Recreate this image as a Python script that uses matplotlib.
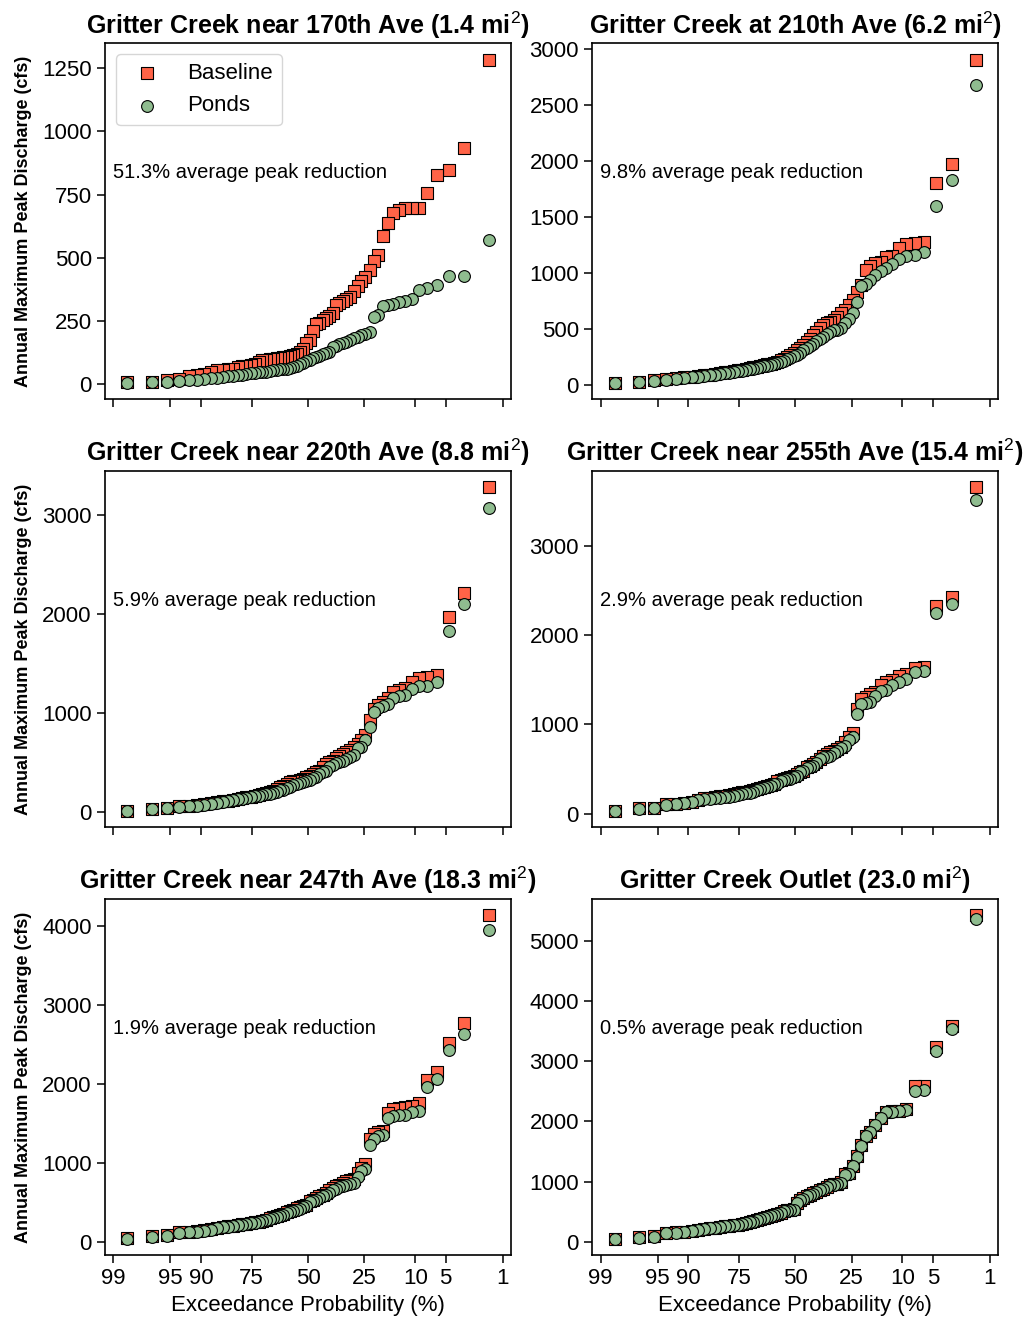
import matplotlib
matplotlib.use("Agg")
import matplotlib.pyplot as plt
import matplotlib.ticker as ticker
import numpy as np
from statistics import NormalDist

plt.rcParams['font.family'] = ['Liberation Sans', 'DejaVu Sans']
plt.rcParams['mathtext.fontset'] = 'custom'
plt.rcParams['mathtext.rm'] = 'Liberation Sans'
plt.rcParams['mathtext.bf'] = 'Liberation Sans:bold'

# ---- data (annual peaks, sorted largest first) ----
site_names = ["Gritter Creek near 170th Ave", "Gritter Creek at 210th Ave",
	"Gritter Creek near 220th Ave", "Gritter Creek near 255th Ave",
	"Gritter Creek near 247th Ave", "Gritter Creek Outlet"]
site_areas = ["1.4", "6.2", "8.8", "15.4", "18.3", "23.0"]
peak_reduction = ["51.3", "9.8", "5.9", "2.9", "1.9", "0.5"]
y_steps = [250, 500, 1000, 1000, 1000, 1000]
prob_ticks = [99, 95, 90, 75, 50, 25, 10, 5, 1]

baseline_170 = [1285, 935, 848, 828, 758, 698, 698, 697, 690, 678, 636, 587, 509, 488, 451, 424,
	408, 386, 368, 344, 335, 330, 320, 312, 279, 270, 262, 253, 243, 237, 209, 172, 160, 140, 126,
	118, 113, 110, 108, 106, 104, 102, 100, 98, 96, 93, 85, 77, 75, 72, 69, 65, 60, 57, 55, 53, 47,
	40, 35, 31, 20, 17, 9, 7]
ponds_170 = [569, 428, 428, 392, 380, 372, 336, 328, 324, 318, 312, 310, 272, 265, 204, 199, 193,
	187, 180, 174, 167, 162, 156, 152, 148, 128, 124, 120, 112, 106, 102, 96, 90, 82, 77, 72, 68, 63,
	60, 59, 57, 55, 53, 51, 49, 47, 46, 44, 42, 39, 37, 35, 33, 31, 28, 25, 23, 20, 17, 16, 13, 9, 7, 3]

baseline_210 = [2902, 1968, 1804, 1280, 1265, 1258, 1225, 1148, 1140, 1100, 1085, 1060, 1025, 895,
	830, 757, 712, 667, 640, 610, 580, 565, 550, 540, 508, 472, 443, 413, 385, 355, 330, 315, 285, 268,
	250, 235, 222, 210, 200, 192, 185, 178, 172, 165, 158, 151, 145, 139, 133, 126, 120, 113, 107, 100,
	94, 88, 82, 76, 70, 60, 52, 42, 26, 20]
ponds_210 = [2677, 1828, 1594, 1184, 1160, 1154, 1124, 1080, 1047, 1017, 981, 940, 905, 885, 742,
	646, 592, 550, 510, 492, 487, 470, 458, 430, 415, 392, 365, 345, 330, 310, 290, 272, 258, 245, 232,
	218, 205, 195, 188, 180, 174, 168, 162, 155, 148, 142, 136, 130, 125, 118, 112, 106, 100, 94, 88,
	82, 76, 70, 64, 55, 48, 40, 24, 18]

baseline_220 = [3280, 2215, 1972, 1387, 1370, 1353, 1312, 1251, 1234, 1217, 1150, 1116, 1082, 1048,
	930, 778, 727, 693, 659, 626, 609, 592, 565, 548, 524, 507, 490, 456, 423, 406, 389, 372, 355, 338,
	328, 321, 315, 304, 287, 270, 254, 237, 220, 203, 196, 186, 176, 169, 159, 152, 145, 135, 125, 118,
	112, 101, 91, 81, 71, 64, 61, 44, 34, 17]
ponds_220 = [3077, 2103, 1826, 1319, 1278, 1278, 1244, 1184, 1173, 1160, 1099, 1079, 1058, 1014, 862,
	727, 659, 653, 575, 558, 541, 524, 507, 497, 484, 463, 423, 406, 389, 362, 345, 328, 315, 304, 294,
	287, 277, 260, 247, 230, 222, 210, 200, 190, 184, 178, 170, 164, 155, 148, 140, 131, 122, 115, 108,
	98, 88, 78, 70, 62, 58, 42, 32, 15]

baseline_255 = [3658, 2429, 2323, 1639, 1628, 1571, 1541, 1496, 1477, 1440, 1365, 1346, 1308, 1289,
	1177, 902, 865, 808, 744, 726, 707, 688, 669, 650, 613, 575, 556, 538, 519, 481, 470, 444, 425, 406,
	398, 387, 376, 361, 338, 323, 312, 301, 286, 274, 263, 256, 248, 241, 233, 226, 214, 203, 195, 188,
	180, 173, 158, 135, 120, 113, 105, 68, 60, 30]
ponds_255 = [3519, 2353, 2248, 1602, 1590, 1515, 1477, 1440, 1383, 1372, 1316, 1252, 1241, 1233, 1120,
	865, 827, 763, 737, 699, 677, 650, 639, 632, 613, 564, 538, 519, 511, 481, 462, 425, 406, 387, 387,
	376, 361, 338, 331, 312, 301, 293, 274, 263, 248, 237, 229, 218, 211, 203, 192, 188, 180, 173, 165,
	162, 150, 135, 120, 105, 101, 60, 53, 30]

baseline_247 = [4136, 2766, 2523, 2149, 2043, 1757, 1723, 1702, 1689, 1681, 1630, 1404, 1383, 1362,
	1298, 979, 936, 872, 796, 779, 766, 736, 723, 702, 681, 651, 617, 596, 574, 553, 532, 511, 468, 447,
	434, 426, 404, 391, 370, 353, 340, 319, 306, 294, 277, 264, 251, 243, 234, 226, 217, 209, 200, 191,
	183, 174, 162, 145, 128, 119, 115, 85, 72, 43]
ponds_247 = [3949, 2626, 2426, 2064, 1957, 1660, 1647, 1604, 1604, 1596, 1566, 1349, 1340, 1306, 1230,
	923, 894, 821, 745, 732, 723, 702, 689, 668, 651, 617, 596, 574, 553, 532, 511, 498, 447, 434, 417,
	404, 387, 374, 362, 340, 328, 311, 298, 285, 272, 260, 247, 238, 230, 221, 213, 204, 196, 187, 179,
	166, 149, 132, 123, 115, 111, 72, 55, 34]

baseline_outlet = [5435, 3595, 3233, 2595, 2590, 2200, 2180, 2170, 2160, 2060, 1940, 1830, 1765, 1610,
	1430, 1265, 1140, 1120, 990, 965, 955, 940, 910, 880, 860, 830, 803, 775, 760, 720, 690, 650, 540,
	525, 520, 510, 480, 465, 442, 425, 407, 390, 373, 356, 340, 322, 305, 294, 283, 272, 260, 254, 243,
	232, 226, 215, 198, 181, 165, 153, 142, 88, 70, 48]
ponds_outlet = [5368, 3540, 3177, 2525, 2508, 2191, 2174, 2163, 2157, 2051, 1934, 1823, 1756, 1600,
	1410, 1254, 1132, 1115, 975, 959, 948, 936, 903, 875, 853, 825, 797, 769, 753, 713, 686, 641, 530,
	518, 513, 502, 474, 457, 435, 418, 401, 385, 368, 351, 334, 318, 301, 290, 279, 268, 256, 251, 240,
	229, 223, 212, 195, 178, 162, 150, 139, 84, 67, 45]

baselines = [baseline_170, baseline_210, baseline_220, baseline_255, baseline_247, baseline_outlet]
ponds = [ponds_170, ponds_210, ponds_220, ponds_255, ponds_247, ponds_outlet]

_nd = NormalDist()

def prob_forward(p):
	# exceedance % -> standard normal quantile
	p = np.clip(np.asarray(p, dtype=float), 1e-6, 100 - 1e-6)
	return np.vectorize(lambda v: _nd.inv_cdf(v / 100.0), otypes=[float])(p)

def prob_inverse(z):
	z = np.asarray(z, dtype=float)
	return np.vectorize(lambda v: 100.0 * _nd.cdf(v), otypes=[float])(z)

def exceedance(values):
	# Weibull plotting position, rank 1 = largest
	n = len(values)
	return np.arange(1, n + 1) / (n + 1) * 100.0

def main():
	fig, axes = plt.subplots(3, 2, figsize=(10.31, 13.25), dpi=100)
	fig.subplots_adjust(left=0.1018, right=0.9683, bottom=0.0528, top=0.9673,
		wspace=0.1995, hspace=0.202)

	for k, ax in enumerate(axes.flat):
		base = baselines[k]
		pond = ponds[k]
		ax.set_xscale('function', functions=(prob_forward, prob_inverse))
		ax.scatter(exceedance(base), base, marker='s', s=72, color='tomato',
			edgecolor='black', linewidth=0.8, label='Baseline', zorder=2)
		ax.scatter(exceedance(pond), pond, marker='o', s=72, color='darkseagreen',
			edgecolor='black', linewidth=0.8, label='Ponds', zorder=3)

		# reversed: high exceedance on the left
		ax.set_xlim(99.24, 0.76)
		ax.xaxis.set_major_locator(ticker.FixedLocator(prob_ticks))
		ax.xaxis.set_major_formatter(ticker.FixedFormatter([str(t) for t in prob_ticks]))
		ax.xaxis.set_minor_locator(ticker.NullLocator())
		ax.yaxis.set_major_locator(ticker.MultipleLocator(y_steps[k]))

		ax.set_title(site_names[k] + " (" + site_areas[k] + r" mi$^2$)",
			fontsize=18, fontweight='bold', pad=7)
		ax.text(0.02, 0.637, peak_reduction[k] + "% average peak reduction",
			transform=ax.transAxes, fontsize=14.5, va='center', ha='left')

		ax.tick_params(axis='both', labelsize=16, length=6, width=1.1)
		for sp in ax.spines.values():
			sp.set_linewidth(1.2)

		if k % 2 == 0:
			ax.set_ylabel("Annual Maximum Peak Discharge (cfs)", fontsize=13,
				fontweight='bold', labelpad=7)
		if k >= 4:
			ax.set_xlabel("Exceedance Probability (%)", fontsize=16)
		else:
			ax.tick_params(axis='x', labelbottom=False)

	axes[0, 0].legend(loc='upper left', fontsize=16, scatterpoints=1)

	plt.savefig("out.png", dpi=100)


if __name__ == "__main__":
	main()
